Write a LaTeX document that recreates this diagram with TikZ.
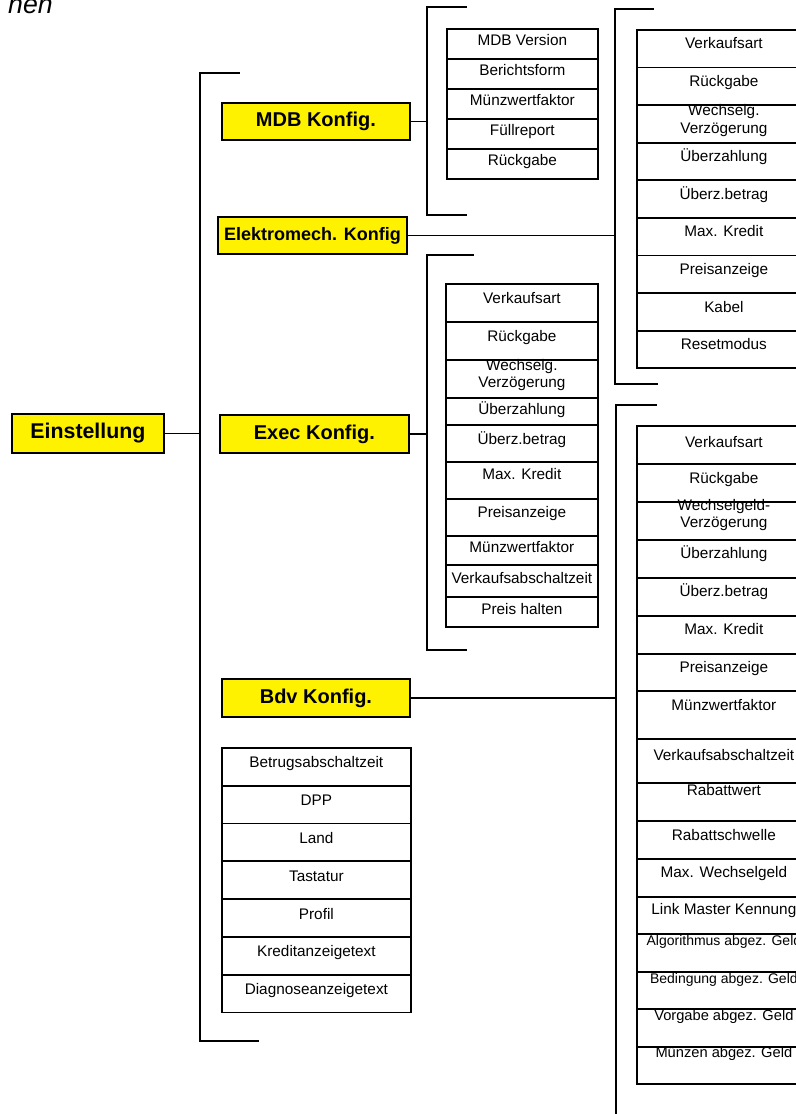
\documentclass[tikz,border=0pt]{standalone}
\usepackage{fontspec}
\setmainfont{Liberation Sans}
\usepackage{xcolor}
\usepackage{tikz}

\begin{document}
\begin{tikzpicture}[
  x=0.75pt, y=-0.75pt,
  konfig/.style={draw=black, line width=1.4pt, fill=yellow, inner sep=0pt,
                 anchor=north west, font=\bfseries\fontsize{15}{18}\selectfont},
  item/.style={draw=black, line width=1.3pt, fill=white, inner xsep=0pt,
               inner ysep=0pt, anchor=north west, font=\fontsize{11.5}{13}\selectfont},
  mdbitem/.style={item, minimum width=113.25pt, text height=12.75pt, text depth=9.75pt},
  emitem/.style={item, minimum width=130.5pt, text height=14.25pt, text depth=13.95pt},
  execitem/.style={item, minimum width=114pt},
  bdvitem/.style={item, minimum width=130.5pt},
  setitem/.style={item, minimum width=141.75pt, text height=15pt, text depth=13.35pt},
  klammer/.style={line width=1.3pt, line cap=rect},
  ast/.style={line width=1pt},
  kopf/.style={font=\itshape\fontsize{20}{24}\selectfont, inner sep=0pt}]

%% Rahmen: 796 x 1114 px, eine Einheit = ein Pixel des Originals
\useasboundingbox (0,0) rectangle (796,1114);

\node[kopf, anchor=base east] (titel) at (53,13) {nen};

%% ---- Wurzel und Hauptklammer ----
\node[konfig, minimum width=114pt, minimum height=29.25pt,
      font=\bfseries\fontsize{16}{19}\selectfont] (einst) at (11,413) {Einstellung};
\coordinate (haupt) at (200,73);
\draw[klammer] (239,73) -- (haupt) -- (200,1041) -- (258,1041);
\draw[ast] (einst.east) -- (einst.east -| haupt);

%% ---- Untermenues ----
\node[konfig, minimum width=141pt, minimum height=27.75pt] (mdb) at (221,102) {MDB Konfig.};
\node[konfig, minimum width=141.75pt, minimum height=27.75pt,
      font=\bfseries\fontsize{13.5}{16}\selectfont] (em) at (217,216) {Elektromech. Konfig};
\node[konfig, minimum width=141.75pt, minimum height=28.5pt] (exec) at (219,414) {Exec Konfig.};
\node[konfig, minimum width=141pt, minimum height=28.5pt] (bdv) at (221,678) {Bdv Konfig.};

%% ---- MDB Konfig. ----
\coordinate (mdbast) at (427,7);
\draw[klammer] (466,7) -- (mdbast) -- (427,215) -- (466,215);
\draw[ast] (mdb.east) -- (mdb.east -| mdbast);
\node[mdbitem] (mver)   at (446,28)  {MDB Version};
\node[mdbitem] (mform)  at (446,58)  {Berichtsform};
\node[mdbitem] (mfakt)  at (446,88)  {Münzwertfaktor};
\node[mdbitem] (mfuell) at (446,118) {Füllreport};
\node[mdbitem] (mrueck) at (446,148) {Rückgabe};

%% ---- Elektromech. Konfig ----
\coordinate (emast) at (615,9);
\draw[klammer] (653,9) -- (emast) -- (615,384) -- (657,384);
\draw[ast] (em.east) -- (em.east -| emast);
\node[emitem] (eart)   at (636,29)    {Verkaufsart};
\node[emitem] (erueck) at (636,66.6)  {Rückgabe};
\node[emitem, text height=21pt, text depth=7.2pt] (everz) at (636,104.2)
  {\shortstack{Wechselg.\\Verzögerung}};
\node[emitem] (eueber) at (636,141.8) {Überzahlung};
\node[emitem] (ebetr)  at (636,179.4) {Überz.betrag};
\node[emitem] (ekred)  at (636,217)   {Max. Kredit};
\node[emitem] (epreis) at (636,254.6) {Preisanzeige};
\node[emitem] (ekabel) at (636,292.2) {Kabel};
\node[emitem] (ereset) at (636,329.8) {Resetmodus};

%% ---- Exec Konfig. (Zeilen ungleich hoch wie im Original) ----
\coordinate (execast) at (427,255);
\draw[klammer] (473,255) -- (execast) -- (427,650) -- (466,650);
\draw[ast] (exec.east) -- (exec.east -| execast);
\node[execitem, text height=15pt,    text depth=13.5pt]  (xart)   at (445,283) {Verkaufsart};
\node[execitem, text height=15pt,    text depth=13.5pt]  (xrueck) at (445,321) {Rückgabe};
\node[execitem, text height=21pt,    text depth=7.5pt]   (xverz)  at (445,359)
  {\shortstack{Wechselg.\\Verzögerung}};
\node[execitem, text height=12.75pt, text depth=7.5pt]   (xueber) at (445,397) {Überzahlung};
\node[execitem, text height=15pt,    text depth=12.75pt] (xbetr)  at (445,424) {Überz.betrag};
\node[execitem, text height=13.5pt,  text depth=14.25pt] (xkred)  at (445,461) {Max. Kredit};
\node[execitem, text height=14.25pt, text depth=13.5pt]  (xpreis) at (445,498) {Preisanzeige};
\node[execitem, text height=12.75pt, text depth=9pt]     (xfakt)  at (445,535) {Münzwertfaktor};
\node[execitem, text height=14.25pt, text depth=9.75pt]  (xabsch) at (445,564) {Verkaufsabschaltzeit};
\node[execitem, text height=13.5pt,  text depth=9pt]     (xhalt)  at (445,596) {Preis halten};

%% ---- Bdv Konfig. (Klammer laeuft unten aus dem Bild) ----
\coordinate (bdvast) at (616,405);
\draw[klammer] (656,405) -- (bdvast) -- (616,1120);
\draw[ast] (bdv.east) -- (bdv.east -| bdvast);
\node[bdvitem, text height=16.5pt,  text depth=12pt]    (bart)   at (636,425)  {Verkaufsart};
\node[bdvitem, text height=15pt,    text depth=13.5pt]  (brueck) at (636,463)  {Rückgabe};
\node[bdvitem, text height=19.5pt,  text depth=9pt]     (bverz)  at (636,501)
  {\shortstack{Wechselgeld-\\Verzögerung}};
\node[bdvitem, text height=14.25pt, text depth=14.25pt] (bueber) at (636,539)  {Überzahlung};
\node[bdvitem, text height=14.25pt, text depth=14.25pt] (bbetr)  at (636,577)  {Überz.betrag};
\node[bdvitem, text height=14.25pt, text depth=14.25pt] (bkred)  at (636,615)  {Max. Kredit};
\node[bdvitem, text height=14.25pt, text depth=13.5pt]  (bpreis) at (636,653)  {Preisanzeige};
\node[bdvitem, text height=15pt,    text depth=21pt]    (bfakt)  at (636,690)  {Münzwertfaktor};
\node[bdvitem, text height=16.5pt,  text depth=16.5pt]  (babsch) at (636,738)  {Verkaufsabschaltzeit};
\node[bdvitem, text height=9.75pt,  text depth=18.75pt] (brwert) at (636,782)  {Rabattwert};
\node[bdvitem, text height=15pt,    text depth=13.5pt]  (brschw) at (636,820)  {Rabattschwelle};
\node[bdvitem, text height=14.25pt, text depth=14.25pt] (bwgeld) at (636,858)  {Max. Wechselgeld};
\node[bdvitem, text height=13.5pt,  text depth=14.25pt] (blink)  at (636,896)  {Link Master Kennung};
\node[bdvitem, text height=9pt,     text depth=19.5pt,
      font=\fontsize{10.5}{12}\selectfont] (balgo)  at (636,933)  {Algorithmus abgez. Geld};
\node[bdvitem, text height=9pt,     text depth=18.75pt,
      font=\fontsize{10.5}{12}\selectfont] (bbed)   at (636,971)  {Bedingung abgez. Geld};
\node[bdvitem, text height=9pt,     text depth=19.5pt,
      font=\fontsize{11}{12}\selectfont]   (bvorg)  at (636,1008) {Vorgabe abgez. Geld};
\node[bdvitem, text height=8.25pt,  text depth=19.5pt,
      font=\fontsize{11}{12}\selectfont]   (bmuenz) at (636,1046) {Münzen abgez. Geld};

%% ---- allgemeine Einstellungen, ohne Verbindung ----
\node[setitem] (sbetrug) at (221,747)   {Betrugsabschaltzeit};
\node[setitem] (sdpp)    at (221,784.8) {DPP};
\node[setitem] (sland)   at (221,822.6) {Land};
\node[setitem] (stast)   at (221,860.4) {Tastatur};
\node[setitem] (sprofil) at (221,898.2) {Profil};
\node[setitem] (skredit) at (221,936)   {Kreditanzeigetext};
\node[setitem] (sdiag)   at (221,973.8) {Diagnoseanzeigetext};
\end{tikzpicture}
\end{document}
